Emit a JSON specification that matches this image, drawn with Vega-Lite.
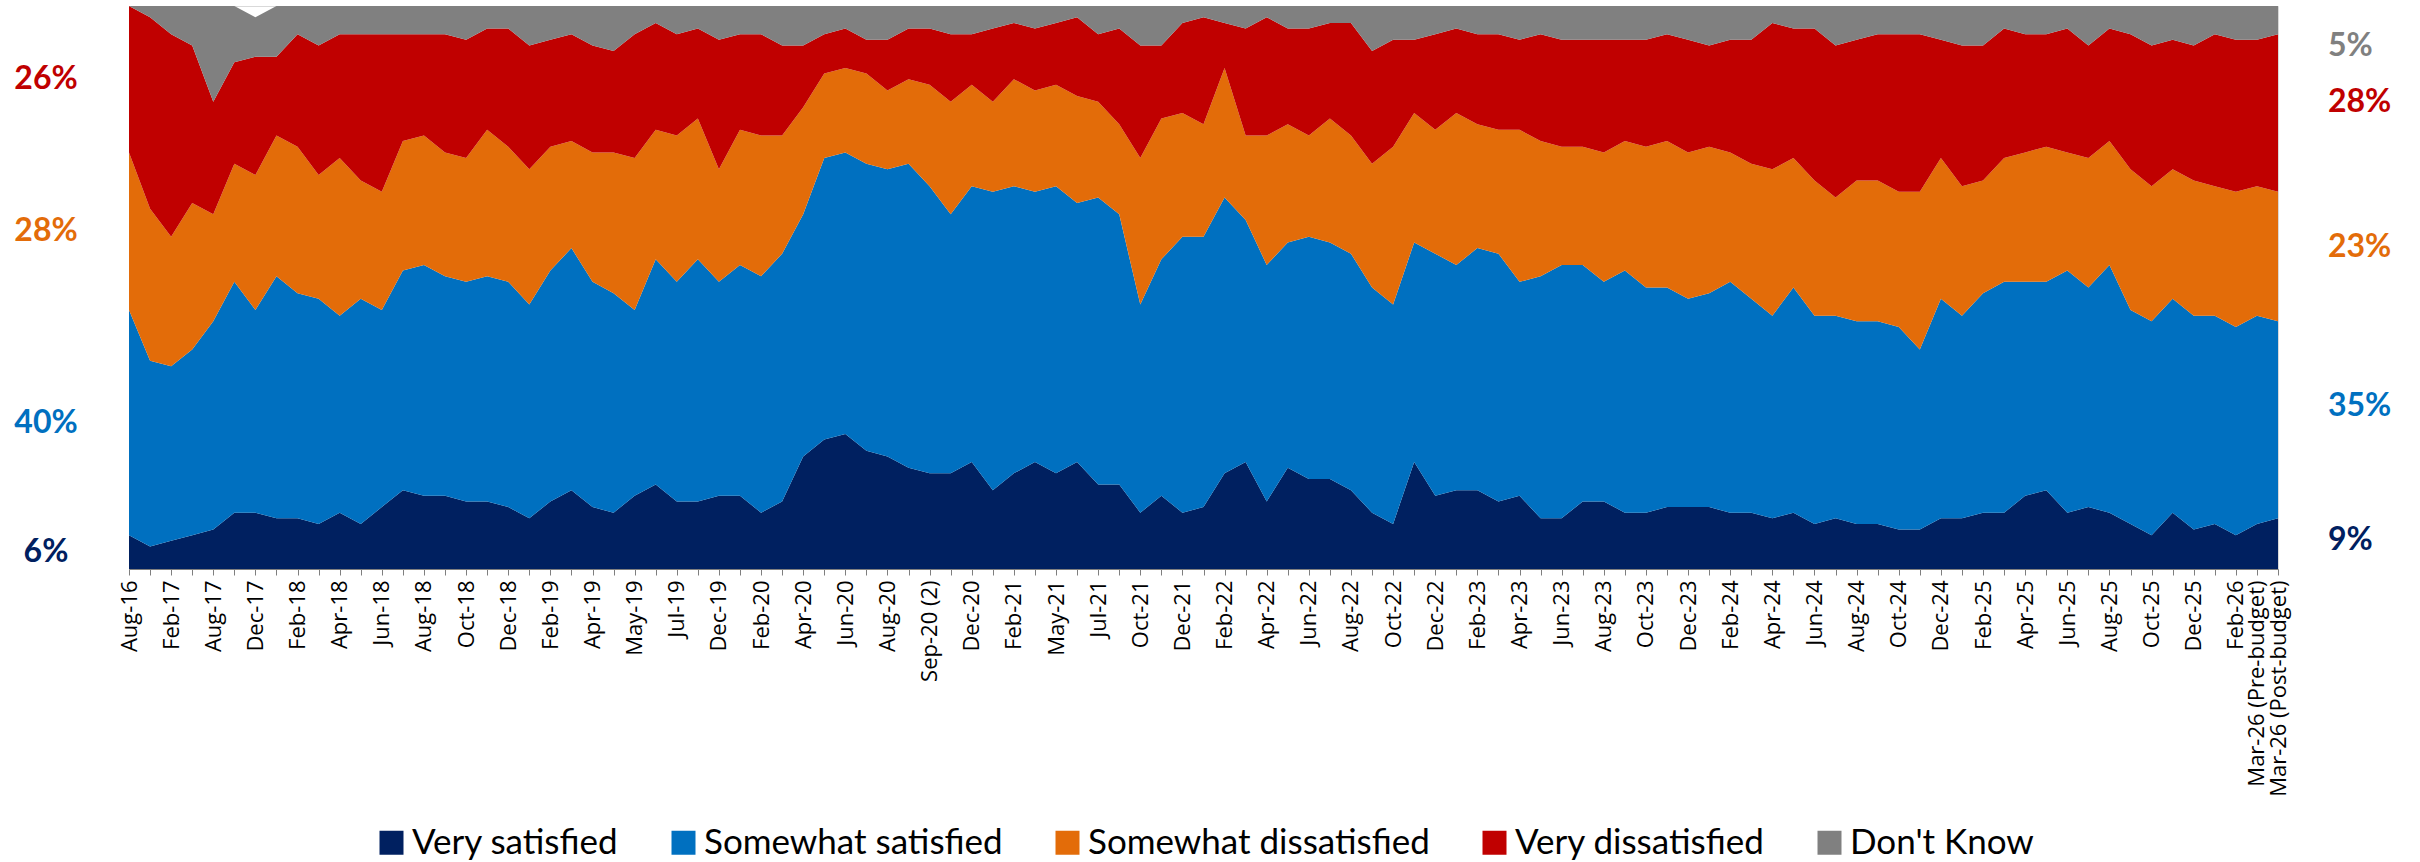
{
  "$schema": "https://vega.github.io/schema/vega-lite/v6.json",
  "width": 2149,
  "height": 563,
  "autosize": {"type": "none"},
  "padding": {"left": 129, "top": 6, "right": 142, "bottom": 293},
  "background": "white",
  "datasets": {
    "survey": [
      {"Period": "Aug-16", "VS": 6, "SS": 40, "SD": 28, "VD": 26, "DK": 0},
      {"Period": "Nov-16", "VS": 4, "SS": 33, "SD": 27, "VD": 34, "DK": 2},
      {"Period": "Feb-17", "VS": 5, "SS": 31, "SD": 23, "VD": 36, "DK": 5},
      {"Period": "May-17", "VS": 6, "SS": 33, "SD": 26, "VD": 28, "DK": 7},
      {"Period": "Aug-17", "VS": 7, "SS": 37, "SD": 19, "VD": 20, "DK": 17},
      {"Period": "Oct-17", "VS": 10, "SS": 41, "SD": 21, "VD": 18, "DK": 10},
      {"Period": "Dec-17", "VS": 10, "SS": 36, "SD": 24, "VD": 21, "DK": 7},
      {"Period": "Jan-18", "VS": 9, "SS": 43, "SD": 25, "VD": 14, "DK": 9},
      {"Period": "Feb-18", "VS": 9, "SS": 40, "SD": 26, "VD": 20, "DK": 5},
      {"Period": "Mar-18", "VS": 8, "SS": 40, "SD": 22, "VD": 23, "DK": 7},
      {"Period": "Apr-18", "VS": 10, "SS": 35, "SD": 28, "VD": 22, "DK": 5},
      {"Period": "May-18", "VS": 8, "SS": 40, "SD": 21, "VD": 26, "DK": 5},
      {"Period": "Jun-18", "VS": 11, "SS": 35, "SD": 21, "VD": 28, "DK": 5},
      {"Period": "Jul-18", "VS": 14, "SS": 39, "SD": 23, "VD": 19, "DK": 5},
      {"Period": "Aug-18", "VS": 13, "SS": 41, "SD": 23, "VD": 18, "DK": 5},
      {"Period": "Sep-18", "VS": 13, "SS": 39, "SD": 22, "VD": 21, "DK": 5},
      {"Period": "Oct-18", "VS": 12, "SS": 39, "SD": 22, "VD": 21, "DK": 6},
      {"Period": "Nov-18", "VS": 12, "SS": 40, "SD": 26, "VD": 18, "DK": 4},
      {"Period": "Dec-18", "VS": 11, "SS": 40, "SD": 24, "VD": 21, "DK": 4},
      {"Period": "Jan-19", "VS": 9, "SS": 38, "SD": 24, "VD": 22, "DK": 7},
      {"Period": "Feb-19", "VS": 12, "SS": 41, "SD": 22, "VD": 19, "DK": 6},
      {"Period": "Mar-19", "VS": 14, "SS": 43, "SD": 19, "VD": 19, "DK": 5},
      {"Period": "Apr-19", "VS": 11, "SS": 40, "SD": 23, "VD": 19, "DK": 7},
      {"Period": "Apr-19 (2)", "VS": 10, "SS": 39, "SD": 25, "VD": 18, "DK": 8},
      {"Period": "May-19", "VS": 13, "SS": 33, "SD": 27, "VD": 22, "DK": 5},
      {"Period": "Jun-19", "VS": 15, "SS": 40, "SD": 23, "VD": 19, "DK": 3},
      {"Period": "Jul-19", "VS": 12, "SS": 39, "SD": 26, "VD": 18, "DK": 5},
      {"Period": "Sep-19", "VS": 12, "SS": 43, "SD": 25, "VD": 16, "DK": 4},
      {"Period": "Dec-19", "VS": 13, "SS": 38, "SD": 20, "VD": 23, "DK": 6},
      {"Period": "Jan-20", "VS": 13, "SS": 41, "SD": 24, "VD": 17, "DK": 5},
      {"Period": "Feb-20", "VS": 10, "SS": 42, "SD": 25, "VD": 18, "DK": 5},
      {"Period": "Mar-20", "VS": 12, "SS": 44, "SD": 21, "VD": 16, "DK": 7},
      {"Period": "Apr-20", "VS": 20, "SS": 43, "SD": 19, "VD": 11, "DK": 7},
      {"Period": "May-20", "VS": 23, "SS": 50, "SD": 15, "VD": 7, "DK": 5},
      {"Period": "Jun-20", "VS": 24, "SS": 50, "SD": 15, "VD": 7, "DK": 4},
      {"Period": "Jul-20", "VS": 21, "SS": 51, "SD": 16, "VD": 6, "DK": 6},
      {"Period": "Aug-20", "VS": 20, "SS": 51, "SD": 14, "VD": 9, "DK": 6},
      {"Period": "Sep-20", "VS": 18, "SS": 54, "SD": 15, "VD": 9, "DK": 4},
      {"Period": "Sep-20 (2)", "VS": 17, "SS": 51, "SD": 18, "VD": 10, "DK": 4},
      {"Period": "Oct-20", "VS": 17, "SS": 46, "SD": 20, "VD": 12, "DK": 5},
      {"Period": "Dec-20", "VS": 19, "SS": 49, "SD": 18, "VD": 9, "DK": 5},
      {"Period": "Jan-21", "VS": 14, "SS": 53, "SD": 16, "VD": 13, "DK": 4},
      {"Period": "Feb-21", "VS": 17, "SS": 51, "SD": 19, "VD": 10, "DK": 3},
      {"Period": "Mar-21", "VS": 19, "SS": 48, "SD": 18, "VD": 11, "DK": 4},
      {"Period": "May-21", "VS": 17, "SS": 51, "SD": 18, "VD": 11, "DK": 3},
      {"Period": "Jun-21", "VS": 19, "SS": 46, "SD": 19, "VD": 14, "DK": 2},
      {"Period": "Jul-21", "VS": 15, "SS": 51, "SD": 17, "VD": 12, "DK": 5},
      {"Period": "Sep-21", "VS": 15, "SS": 48, "SD": 16, "VD": 17, "DK": 4},
      {"Period": "Oct-21", "VS": 10, "SS": 37, "SD": 26, "VD": 20, "DK": 7},
      {"Period": "Nov-21", "VS": 13, "SS": 42, "SD": 25, "VD": 13, "DK": 7},
      {"Period": "Dec-21", "VS": 10, "SS": 49, "SD": 22, "VD": 16, "DK": 3},
      {"Period": "Jan-22", "VS": 11, "SS": 48, "SD": 20, "VD": 19, "DK": 2},
      {"Period": "Feb-22", "VS": 17, "SS": 49, "SD": 23, "VD": 8, "DK": 3},
      {"Period": "Mar-22", "VS": 19, "SS": 43, "SD": 15, "VD": 19, "DK": 4},
      {"Period": "Apr-22", "VS": 12, "SS": 42, "SD": 23, "VD": 21, "DK": 2},
      {"Period": "May-22", "VS": 18, "SS": 40, "SD": 21, "VD": 17, "DK": 4},
      {"Period": "Jun-22", "VS": 16, "SS": 43, "SD": 18, "VD": 19, "DK": 4},
      {"Period": "Jul-22", "VS": 16, "SS": 42, "SD": 22, "VD": 17, "DK": 3},
      {"Period": "Aug-22", "VS": 14, "SS": 42, "SD": 21, "VD": 20, "DK": 3},
      {"Period": "Sep-22", "VS": 10, "SS": 40, "SD": 22, "VD": 20, "DK": 8},
      {"Period": "Oct-22", "VS": 8, "SS": 39, "SD": 28, "VD": 19, "DK": 6},
      {"Period": "Nov-22", "VS": 19, "SS": 39, "SD": 23, "VD": 13, "DK": 6},
      {"Period": "Dec-22", "VS": 13, "SS": 43, "SD": 22, "VD": 17, "DK": 5},
      {"Period": "Jan-23", "VS": 14, "SS": 40, "SD": 27, "VD": 15, "DK": 4},
      {"Period": "Feb-23", "VS": 14, "SS": 43, "SD": 22, "VD": 16, "DK": 5},
      {"Period": "Mar-23", "VS": 12, "SS": 44, "SD": 22, "VD": 17, "DK": 5},
      {"Period": "Apr-23", "VS": 13, "SS": 38, "SD": 27, "VD": 16, "DK": 6},
      {"Period": "May-23", "VS": 9, "SS": 43, "SD": 24, "VD": 19, "DK": 5},
      {"Period": "Jun-23", "VS": 9, "SS": 45, "SD": 21, "VD": 19, "DK": 6},
      {"Period": "Jul-23", "VS": 12, "SS": 42, "SD": 21, "VD": 19, "DK": 6},
      {"Period": "Aug-23", "VS": 12, "SS": 39, "SD": 23, "VD": 20, "DK": 6},
      {"Period": "Sep-23", "VS": 10, "SS": 43, "SD": 23, "VD": 18, "DK": 6},
      {"Period": "Oct-23", "VS": 10, "SS": 40, "SD": 25, "VD": 19, "DK": 6},
      {"Period": "Nov-23", "VS": 11, "SS": 39, "SD": 26, "VD": 19, "DK": 5},
      {"Period": "Dec-23", "VS": 11, "SS": 37, "SD": 26, "VD": 20, "DK": 6},
      {"Period": "Jan-24", "VS": 11, "SS": 38, "SD": 26, "VD": 18, "DK": 7},
      {"Period": "Feb-24", "VS": 10, "SS": 41, "SD": 23, "VD": 20, "DK": 6},
      {"Period": "Mar-24", "VS": 10, "SS": 38, "SD": 24, "VD": 22, "DK": 6},
      {"Period": "Apr-24", "VS": 9, "SS": 36, "SD": 26, "VD": 26, "DK": 3},
      {"Period": "May-24", "VS": 10, "SS": 40, "SD": 23, "VD": 23, "DK": 4},
      {"Period": "Jun-24", "VS": 8, "SS": 37, "SD": 24, "VD": 27, "DK": 4},
      {"Period": "Jul-24", "VS": 9, "SS": 36, "SD": 21, "VD": 27, "DK": 7},
      {"Period": "Aug-24", "VS": 8, "SS": 36, "SD": 25, "VD": 25, "DK": 6},
      {"Period": "Sep-24", "VS": 8, "SS": 36, "SD": 25, "VD": 26, "DK": 5},
      {"Period": "Oct-24", "VS": 7, "SS": 36, "SD": 24, "VD": 28, "DK": 5},
      {"Period": "Nov-24", "VS": 7, "SS": 32, "SD": 28, "VD": 28, "DK": 5},
      {"Period": "Dec-24", "VS": 9, "SS": 39, "SD": 25, "VD": 21, "DK": 6},
      {"Period": "Jan-25", "VS": 9, "SS": 36, "SD": 23, "VD": 25, "DK": 7},
      {"Period": "Feb-25", "VS": 10, "SS": 39, "SD": 20, "VD": 24, "DK": 7},
      {"Period": "Mar-25", "VS": 10, "SS": 41, "SD": 22, "VD": 23, "DK": 4},
      {"Period": "Apr-25", "VS": 13, "SS": 38, "SD": 23, "VD": 21, "DK": 5},
      {"Period": "May-25", "VS": 14, "SS": 37, "SD": 24, "VD": 20, "DK": 5},
      {"Period": "Jun-25", "VS": 10, "SS": 43, "SD": 21, "VD": 22, "DK": 4},
      {"Period": "Jul-25", "VS": 11, "SS": 39, "SD": 23, "VD": 20, "DK": 7},
      {"Period": "Aug-25", "VS": 10, "SS": 44, "SD": 22, "VD": 20, "DK": 4},
      {"Period": "Sep-25", "VS": 8, "SS": 38, "SD": 25, "VD": 24, "DK": 5},
      {"Period": "Oct-25", "VS": 6, "SS": 38, "SD": 24, "VD": 25, "DK": 7},
      {"Period": "Nov-25", "VS": 10, "SS": 38, "SD": 23, "VD": 23, "DK": 6},
      {"Period": "Dec-25", "VS": 7, "SS": 38, "SD": 24, "VD": 24, "DK": 7},
      {"Period": "Jan-26", "VS": 8, "SS": 37, "SD": 23, "VD": 27, "DK": 5},
      {"Period": "Feb-26", "VS": 6, "SS": 37, "SD": 24, "VD": 27, "DK": 6},
      {"Period": "Mar-26 (Pre-budget)", "VS": 8, "SS": 37, "SD": 23, "VD": 26, "DK": 6},
      {"Period": "Mar-26 (Post-budget)", "VS": 9, "SS": 35, "SD": 23, "VD": 28, "DK": 5}
    ]
  },
  "data": {"name": "survey"},
  "transform": [
    {"fold": ["VS", "SS", "SD", "VD", "DK"], "as": ["Code", "Percent"]},
    {"lookup": "Code", "from": {"data": {"values": [
      {"Code": "VS", "Response": "Very satisfied", "Rank": 1},
      {"Code": "SS", "Response": "Somewhat satisfied", "Rank": 2},
      {"Code": "SD", "Response": "Somewhat dissatisfied", "Rank": 3},
      {"Code": "VD", "Response": "Very dissatisfied", "Rank": 4},
      {"Code": "DK", "Response": "Don't Know", "Rank": 5}
    ]}, "key": "Code", "fields": ["Response", "Rank"]}}
  ],
  "encoding": {
    "x": {
      "field": "Period",
      "type": "ordinal",
      "sort": null,
      "scale": {
        "type": "point",
        "padding": 0,
        "domain": ["Aug-16","Nov-16","Feb-17","May-17","Aug-17","Oct-17","Dec-17","Jan-18","Feb-18","Mar-18","Apr-18","May-18","Jun-18","Jul-18","Aug-18","Sep-18","Oct-18","Nov-18","Dec-18","Jan-19","Feb-19","Mar-19","Apr-19","Apr-19 (2)","May-19","Jun-19","Jul-19","Sep-19","Dec-19","Jan-20","Feb-20","Mar-20","Apr-20","May-20","Jun-20","Jul-20","Aug-20","Sep-20","Sep-20 (2)","Oct-20","Dec-20","Jan-21","Feb-21","Mar-21","May-21","Jun-21","Jul-21","Sep-21","Oct-21","Nov-21","Dec-21","Jan-22","Feb-22","Mar-22","Apr-22","May-22","Jun-22","Jul-22","Aug-22","Sep-22","Oct-22","Nov-22","Dec-22","Jan-23","Feb-23","Mar-23","Apr-23","May-23","Jun-23","Jul-23","Aug-23","Sep-23","Oct-23","Nov-23","Dec-23","Jan-24","Feb-24","Mar-24","Apr-24","May-24","Jun-24","Jul-24","Aug-24","Sep-24","Oct-24","Nov-24","Dec-24","Jan-25","Feb-25","Mar-25","Apr-25","May-25","Jun-25","Jul-25","Aug-25","Sep-25","Oct-25","Nov-25","Dec-25","Jan-26","Feb-26","Mar-26 (Pre-budget)","Mar-26 (Post-budget)"]
      },
      "axis": {
        "title": null,
        "labelAngle": -90,
        "labelFont": "Open Sans",
        "labelFontSize": 22,
        "labelColor": "#000000",
        "labelOverlap": false,
        "labelPadding": 5,
        "labelLimit": 0,
        "tickSize": 6,
        "tickColor": "#7f7f7f",
        "domainColor": "#7f7f7f",
        "grid": false,
        "labelExpr": "indexof(['Aug-16','Feb-17','Aug-17','Dec-17','Feb-18','Apr-18','Jun-18','Aug-18','Oct-18','Dec-18','Feb-19','Apr-19','May-19','Jul-19','Dec-19','Feb-20','Apr-20','Jun-20','Aug-20','Sep-20 (2)','Dec-20','Feb-21','May-21','Jul-21','Oct-21','Dec-21','Feb-22','Apr-22','Jun-22','Aug-22','Oct-22','Dec-22','Feb-23','Apr-23','Jun-23','Aug-23','Oct-23','Dec-23','Feb-24','Apr-24','Jun-24','Aug-24','Oct-24','Dec-24','Feb-25','Apr-25','Jun-25','Aug-25','Oct-25','Dec-25','Feb-26','Mar-26 (Pre-budget)','Mar-26 (Post-budget)'], datum.value) >= 0 ? datum.value : ''"
      }
    },
    "y": {
      "field": "Percent",
      "type": "quantitative",
      "stack": "zero",
      "scale": {"domain": [0, 100], "nice": false, "zero": true},
      "axis": null
    },
    "color": {
      "field": "Response",
      "type": "nominal",
      "scale": {
        "domain": ["Very satisfied", "Somewhat satisfied", "Somewhat dissatisfied", "Very dissatisfied", "Don't Know"],
        "range": ["#002060", "#0070C0", "#E36C09", "#C00000", "#808080"]
      },
      "legend": {
        "title": null,
        "orient": "bottom",
        "direction": "horizontal",
        "symbolType": "square",
        "symbolSize": 576,
        "symbolStrokeWidth": 0,
        "symbolOpacity": 1,
        "labelFont": "Lato",
        "labelFontSize": 35,
        "labelColor": "#000000",
        "labelLimit": 0,
        "labelOffset": 3,
        "columnPadding": 47,
        "offset": 28
      }
    },
    "order": {"field": "Rank", "type": "quantitative"}
  },
  "layer": [
    {
      "mark": {"type": "area", "opacity": 1, "interpolate": "linear"}
    },
    {
      "transform": [{"filter": "datum.Period == 'Aug-16' && datum.Percent > 0"}],
      "mark": {"type": "text", "font": "Lato", "fontSize": 32, "fontWeight": "bold", "align": "center", "baseline": "middle", "dx": -83, "text": {"expr": "datum.Percent + '%'"}},
      "encoding": {
        "y": {"field": "Percent", "type": "quantitative", "stack": "zero", "bandPosition": 0.5, "scale": {"domain": [0, 100], "nice": false, "zero": true}, "axis": null}
      }
    },
    {
      "transform": [{"filter": "datum.Period == 'Mar-26 (Post-budget)' && datum.Percent > 0"}],
      "mark": {"type": "text", "font": "Lato", "fontSize": 32, "fontWeight": "bold", "align": "left", "baseline": "middle", "dx": 50, "dy": {"expr": "datum.Code == 'DK' ? 28 : 0"}, "text": {"expr": "datum.Percent + '%'"}},
      "encoding": {
        "y": {"field": "Percent", "type": "quantitative", "stack": "zero", "bandPosition": 0.57, "scale": {"domain": [0, 100], "nice": false, "zero": true}, "axis": null}
      }
    }
  ],
  "config": {
    "view": {"stroke": "#d9d9d9", "strokeWidth": 1},
    "legend": {"layout": {"bottom": {"anchor": "middle"}}}
  }
}
